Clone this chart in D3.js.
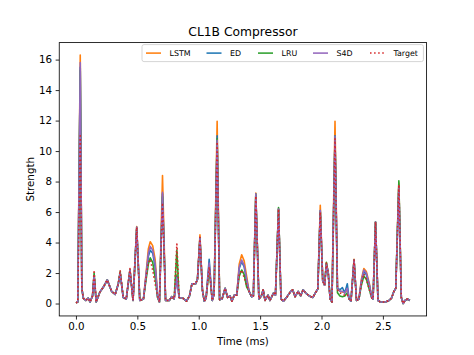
<!DOCTYPE html>
<html><head><meta charset="utf-8">
<script src="https://cdn.jsdelivr.net/npm/d3@7"></script>
<style>body{margin:0;background:#fff}svg{display:block}</style>
</head><body>
<svg id="c" width="474" height="355"></svg>
<script>
const time=[0,0.015,0.035,0.048,0.06,0.08,0.1,0.115,0.135,0.148,
0.165,0.195,0.225,0.255,0.29,0.32,0.345,0.36,0.385,0.41,
0.44,0.465,0.495,0.52,0.55,0.57,0.59,0.605,0.625,0.645,
0.665,0.68,0.705,0.73,0.76,0.78,0.8,0.822,0.84,0.87,
0.9,0.925,0.945,0.975,0.99,1.01,1.03,1.045,1.06,1.085,
1.11,1.125,1.15,1.17,1.19,1.215,1.235,1.255,1.27,1.29,
1.31,1.33,1.35,1.37,1.39,1.41,1.43,1.445,1.465,1.49,
1.51,1.525,1.54,1.565,1.58,1.61,1.625,1.65,1.67,1.69,
1.72,1.75,1.765,1.785,1.81,1.83,1.85,1.87,1.9,1.93,
1.95,1.97,1.99,2.01,2.025,2.04,2.055,2.07,2.085,2.11,
2.13,2.15,2.17,2.19,2.21,2.225,2.24,2.265,2.285,2.305,
2.325,2.345,2.365,2.39,2.41,2.42,2.44,2.46,2.48,2.52,
2.55,2.57,2.59,2.605,2.63,2.65,2.665,2.68,2.7,2.72];

const lstm=[0.05,0.1,16.3,1.0,0.35,0.2,0.35,0.1,0.5,1.8,
0.1,0.75,1.1,1.55,0.8,0.6,1.3,2.0,0.4,0.3,
2.2,0.2,5.05,0.2,0.3,1.9,3.6,4.05,3.8,2.9,
0.5,0.1,8.4,0.2,0.2,0.45,0.3,1.9,0.4,0.35,
0.15,0.5,1.3,1.3,1.6,4.5,0.9,0.15,0.35,2.5,
0.2,0.6,11.95,0.25,0.3,1.0,0.4,0.5,0.15,0.55,
0.55,2.6,3.2,2.8,1.8,0.8,0.45,0.5,7.25,0.3,
0.5,0.9,0.2,0.55,0.2,0.7,0.55,6.2,0.3,0.15,
0.45,0.8,0.9,0.45,0.8,0.5,0.9,0.7,0.5,0.4,
0.7,0.95,6.45,1.5,1.2,2.65,2.0,0.3,0.1,11.95,
1.0,0.8,0.75,0.7,0.9,0.3,0.15,2.9,0.2,0.3,
1.6,2.3,2.1,1.3,0.35,0.3,5.35,0.2,0.1,0.1,
0.2,0.35,0.8,1.0,7.9,0.4,0.0,0.2,0.3,0.2];

const ed=[0.05,0.1,15.5,1.0,0.35,0.2,0.35,0.1,0.5,1.8,
0.1,0.75,1.1,1.55,0.8,0.6,1.3,2.0,0.4,0.3,
2.2,0.2,5.0,0.2,0.3,1.7,3.1,3.5,3.3,2.4,
0.4,0.1,7.2,0.2,0.2,0.45,0.3,1.8,0.4,0.35,
0.15,0.5,1.3,1.3,1.6,4.3,0.9,0.15,0.35,2.9,
0.2,0.6,11.0,0.25,0.3,1.0,0.4,0.5,0.15,0.55,
0.55,2.3,2.75,2.4,1.5,0.8,0.45,0.5,7.1,0.3,
0.5,0.9,0.2,0.55,0.2,0.7,0.55,6.2,0.3,0.15,
0.45,0.8,0.9,0.45,0.8,0.5,0.9,0.7,0.5,0.4,
0.7,0.95,6.1,1.5,1.2,2.6,2.0,0.3,0.1,11.0,
1.0,0.9,1.05,0.7,1.3,0.3,0.15,2.85,0.2,0.3,
1.4,2.1,1.9,1.2,0.35,0.3,5.35,0.2,0.1,0.1,
0.2,0.35,0.8,1.0,7.75,0.4,0.0,0.2,0.3,0.2];

const lru=[0.05,0.1,15.3,1.0,0.35,0.2,0.35,0.1,0.5,2.0,
0.1,0.75,1.1,1.55,0.8,0.6,1.3,2.1,0.4,0.3,
2.2,0.2,4.9,0.2,0.3,1.5,2.6,3.0,2.7,1.7,
0.4,0.1,7.0,0.2,0.2,0.45,0.3,3.5,0.4,0.35,
0.15,0.5,1.3,1.3,1.6,4.3,0.9,0.15,0.35,2.3,
0.2,0.6,10.8,0.25,0.3,1.0,0.4,0.5,0.15,0.55,
0.55,1.8,2.2,1.9,1.1,0.8,0.45,0.5,7.2,0.3,
0.5,0.9,0.2,0.55,0.2,0.7,0.55,6.3,0.3,0.15,
0.45,0.8,0.9,0.45,0.8,0.5,0.9,0.7,0.5,0.4,
0.7,0.95,6.0,1.5,1.2,2.7,2.0,0.3,0.1,10.9,
0.7,0.5,0.45,0.5,0.7,0.3,0.15,2.85,0.2,0.3,
1.2,1.8,1.6,0.9,0.35,0.3,5.35,0.2,0.1,0.1,
0.2,0.35,0.8,1.0,8.05,0.4,0.0,0.2,0.3,0.2];

const s4d=[0.05,0.1,15.8,1.0,0.35,0.2,0.35,0.1,0.5,1.8,
0.1,0.75,1.1,1.55,0.8,0.6,1.3,2.0,0.4,0.3,
2.2,0.2,5.0,0.2,0.3,1.8,3.3,3.75,3.5,2.6,
0.45,0.1,7.3,0.2,0.2,0.45,0.3,1.7,0.4,0.35,
0.15,0.5,1.3,1.3,1.6,4.3,0.9,0.15,0.35,2.65,
0.2,0.6,10.7,0.25,0.3,1.0,0.4,0.5,0.15,0.55,
0.55,2.4,2.85,2.5,1.6,0.8,0.45,0.5,7.2,0.3,
0.5,0.9,0.2,0.55,0.2,0.7,0.55,6.2,0.3,0.15,
0.45,0.8,0.9,0.45,0.8,0.5,0.9,0.7,0.5,0.4,
0.7,0.95,6.1,1.5,1.2,2.6,2.0,0.3,0.1,10.95,
1.0,0.8,0.8,0.7,1.0,0.3,0.15,2.85,0.2,0.3,
1.5,2.2,2.0,1.2,0.35,0.3,5.35,0.2,0.1,0.1,
0.2,0.35,0.8,1.0,7.7,0.4,0.0,0.2,0.3,0.2];

const target=[0.05,0.1,11.0,1.0,0.35,0.2,0.35,0.1,0.5,2.2,
0.1,0.75,1.1,1.55,0.8,0.6,1.3,2.2,0.4,0.3,
2.3,0.2,5.0,0.2,0.3,1.6,2.7,2.9,2.2,1.3,
0.5,0.1,6.6,0.2,0.2,0.45,0.3,3.9,0.4,0.35,
0.15,0.5,1.3,1.3,1.6,4.35,0.9,0.15,0.35,2.4,
0.2,0.6,10.6,0.25,0.3,1.0,0.4,0.5,0.15,0.55,
0.55,1.9,2.2,1.7,1.2,0.8,0.45,0.5,7.05,0.3,
0.5,0.9,0.2,0.55,0.2,0.7,0.55,6.2,0.3,0.15,
0.45,0.8,0.9,0.45,0.8,0.5,0.9,0.7,0.5,0.4,
0.7,0.95,6.0,1.5,1.2,2.65,2.0,0.3,0.1,10.8,
0.9,0.7,0.6,0.55,0.6,0.3,0.15,2.85,0.2,0.3,
1.3,1.95,1.6,0.9,0.35,0.3,5.35,0.2,0.1,0.1,
0.2,0.35,0.8,1.0,7.8,0.4,0.0,0.2,0.3,0.2];

const seriesNames=["LSTM","ED","LRU","S4D","Target"];
const xTicks=[0,0.5,1.0,1.5,2.0,2.5];
const yTicks=[0,2,4,6,8,10,12,14,16];

const series=[
 {name:"LSTM",vals:lstm,color:"#ff7f0e",dash:null},
 {name:"ED",vals:ed,color:"#1f77b4",dash:null},
 {name:"LRU",vals:lru,color:"#2ca02c",dash:null},
 {name:"S4D",vals:s4d,color:"#9467bd",dash:null},
 {name:"Target",vals:target,color:"#d62728",dash:"1.54,2.54"}
];

const L=59.25,R=426.6,T=42.6,B=315.95;
const font="DejaVu Sans";
const svg=d3.select("#c");

const [tmin,tmax]=d3.extent(time), tp=(tmax-tmin)*0.05;
const x=d3.scaleLinear().domain([tmin-tp,tmax+tp]).range([L,R]);
const allV=[].concat(lstm,ed,lru,s4d,target);
const [vmin,vmax]=d3.extent(allV), vp=(vmax-vmin)*0.05;
const y=d3.scaleLinear().domain([vmin-vp,vmax+vp]).range([B,T]);

svg.append("defs").append("clipPath").attr("id","clp")
  .append("rect").attr("x",L).attr("y",T).attr("width",R-L).attr("height",B-T);

const line=d3.line().x(d=>x(d[0])).y(d=>y(d[1]));
const g=svg.append("g").attr("clip-path","url(#clp)");
series.forEach(s=>{
  g.append("path").datum(time.map((t,i)=>[t,s.vals[i]]))
   .attr("d",line).attr("fill","none").attr("stroke",s.color)
   .attr("stroke-width",1.6).attr("stroke-linejoin","round")
   .attr("stroke-dasharray",s.dash);
});

// axes
const xa=svg.append("g").attr("transform",`translate(0,${B})`)
  .call(d3.axisBottom(x).tickValues(xTicks).tickFormat(d3.format(".1f")).tickSize(3.6).tickPadding(3.6));
const ya=svg.append("g").attr("transform",`translate(${L},0)`)
  .call(d3.axisLeft(y).tickValues(yTicks).tickFormat(d3.format("d")).tickSize(3.6).tickPadding(3.6));
[xa,ya].forEach(a=>{
  a.select(".domain").remove();
  a.selectAll(".tick line").attr("stroke","#000").attr("stroke-width",0.82);
  a.selectAll(".tick text").attr("font-family",font).attr("font-size",10.3).attr("fill","#000");
});

svg.append("rect").attr("x",L).attr("y",T).attr("width",R-L).attr("height",B-T)
  .attr("fill","none").attr("stroke","#000").attr("stroke-width",0.82);

svg.append("text").attr("x",(L+R)/2).attr("y",36.4).attr("text-anchor","middle")
  .attr("font-family",font).attr("font-size",12.3).attr("fill","#000").text("CL1B Compressor");
svg.append("text").attr("x",(L+R)/2).attr("y",345.3).attr("text-anchor","middle")
  .attr("font-family",font).attr("font-size",10.3).attr("fill","#000").text("Time (ms)");
svg.append("text").attr("transform",`translate(33.6,${(T+B)/2}) rotate(-90)`).attr("text-anchor","middle")
  .attr("font-family",font).attr("font-size",10.3).attr("fill","#000").text("Strength");

// legend
const lg=svg.append("g");
lg.append("rect").attr("x",142).attr("y",44.6).attr("width",281.4).attr("height",17)
  .attr("rx",2).attr("fill","#fff").attr("fill-opacity",0.8).attr("stroke","#cccccc").attr("stroke-width",0.82);
const lx=[146,206.5,258,313,370];
series.forEach((s,i)=>{
  lg.append("line").attr("x1",lx[i]).attr("x2",lx[i]+15).attr("y1",53.1).attr("y2",53.1)
    .attr("stroke",s.color).attr("stroke-width",1.54).attr("stroke-dasharray",s.dash);
  lg.append("text").attr("x",lx[i]+23.5).attr("y",56.0).attr("font-family",font).attr("font-size",7.9)
    .attr("fill","#000").text(seriesNames[i]);
});
</script>
</body></html>
